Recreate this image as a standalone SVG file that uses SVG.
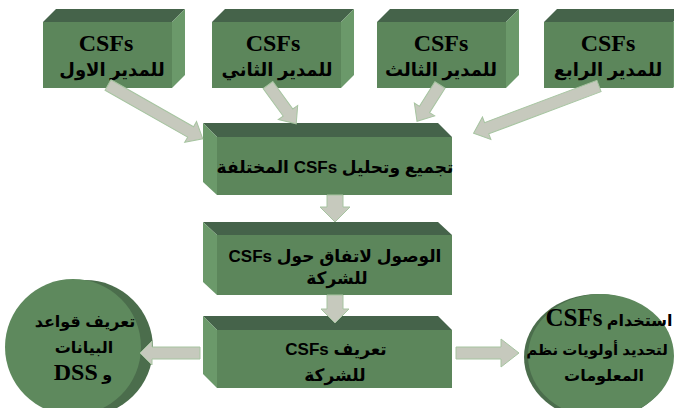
<svg xmlns="http://www.w3.org/2000/svg" width="674" height="408" viewBox="0 0 674 408">
<style>
.front{fill:#5c865b}
.top{fill:#45634a}
.side{fill:#6b996a}
.rim{fill:#4b6d4c}
.face{fill:#5e895d}
.arr{fill:#c6c9bd;stroke:#a6c4a0;stroke-width:1}
.t{font-family:"Liberation Sans","DejaVu Sans",sans-serif;font-weight:bold;fill:#000;text-anchor:middle}
.ts{font-family:"Liberation Serif","DejaVu Sans",serif;font-weight:bold;fill:#000;text-anchor:middle}
.lat{font-family:"Liberation Serif",serif}
</style>
<rect width="674" height="408" fill="#ffffff"/>

<g id="manager1">
<polygon class="top" points="43,22 56,9 185,9 172,22"/>
<polygon class="side" points="172,22 185,9 185,75 172,88"/>
<rect class="front" x="43" y="22" width="129" height="66"/>
<text class="ts" x="106" y="51" font-size="24">CSFs</text>
<text class="ts" x="112" y="76" font-size="18" direction="rtl">للمدير الاول</text>
</g>
<g id="manager2">
<polygon class="top" points="212,22 225,9 354,9 341,22"/>
<polygon class="side" points="341,22 354,9 354,75 341,88"/>
<rect class="front" x="212" y="22" width="129" height="66"/>
<text class="ts" x="273" y="51" font-size="24">CSFs</text>
<text class="ts" x="277" y="76" font-size="18" direction="rtl">للمدير الثاني</text>
</g>
<g id="manager3">
<polygon class="top" points="377,22 390,9 519,9 506,22"/>
<polygon class="side" points="506,22 519,9 519,75 506,88"/>
<rect class="front" x="377" y="22" width="129" height="66"/>
<text class="ts" x="441" y="51" font-size="24">CSFs</text>
<text class="ts" x="441" y="76" font-size="18" direction="rtl">للمدير الثالث</text>
</g>
<g id="manager4">
<polygon class="top" points="544,22 557,9 686,9 673,22"/>
<polygon class="side" points="673,22 686,9 686,75 673,88"/>
<rect class="front" x="544" y="22" width="129" height="66"/>
<text class="ts" x="608" y="51" font-size="24">CSFs</text>
<text class="ts" x="608" y="76" font-size="18" direction="rtl">للمدير الرابع</text>
</g>

<g id="collect">
<polygon class="top" points="203,123 438,123 452,137 217,137"/>
<polygon class="side" points="203,123 217,137 217,195 203,182"/>
<rect class="front" x="217" y="137" width="235" height="58"/>
<text class="t" x="335" y="173" font-size="17" direction="rtl">تجميع وتحليل CSFs المختلفة</text>
</g>
<g id="agree">
<polygon class="top" points="203,222 438,222 452,235 217,235"/>
<polygon class="side" points="203,222 217,235 217,295 203,282"/>
<rect class="front" x="217" y="235" width="235" height="60"/>
<text class="t" x="335" y="262" font-size="17" direction="rtl">الوصول لاتفاق حول  CSFs</text>
<text class="t" x="337" y="284" font-size="17" direction="rtl">للشركة</text>
</g>
<g id="define">
<polygon class="top" points="203,316 438,316 452,330 217,330"/>
<polygon class="side" points="203,316 217,330 217,388 203,374"/>
<rect class="front" x="217" y="330" width="235" height="58"/>
<text class="t" x="336" y="355" font-size="17" direction="rtl">تعريف CSFs</text>
<text class="t" x="335" y="381" font-size="17" direction="rtl">للشركة</text>
</g>

<g id="databases">
<circle class="rim" cx="85" cy="348" r="68"/>
<circle class="face" cx="73" cy="347" r="68"/>
<text class="t" x="85" y="327" font-size="16" direction="rtl">تعريف قواعد</text>
<text class="t" x="84" y="353" font-size="16" direction="rtl">البيانات</text>
<text class="t" x="83" y="380" font-size="16" direction="rtl">و <tspan class="lat" font-size="24">DSS</tspan></text>
</g>
<g id="priorities">
<ellipse class="rim" cx="598" cy="357" rx="74" ry="63"/>
<ellipse class="face" cx="601" cy="356" rx="73" ry="62"/>
<text class="t" x="609" y="326" font-size="16" direction="rtl">استخدام <tspan class="lat" font-size="25">CSFs</tspan></text>
<text class="t" x="597" y="355" font-size="15" direction="rtl">لتحديد أولويات نظم</text>
<text class="t" x="604" y="381" font-size="16" direction="rtl">المعلومات</text>
</g>

<g id="connectors">
<path class="arr" transform="translate(108,85) rotate(29.6)" d="M0,-6 H95 V-12 L109,0 L95,12 V6 H0 Z"/>
<path class="arr" transform="translate(268,85) rotate(54)" d="M0,-6 H34 V-12 L48,0 L34,12 V6 H0 Z"/>
<path class="arr" transform="translate(440,85) rotate(122.3)" d="M0,-6 H29 V-12 L43,0 L29,12 V6 H0 Z"/>
<path class="arr" transform="translate(599,86) rotate(159.4)" d="M0,-6 H120 V-12 L134,0 L120,12 V6 H0 Z"/>
<path class="arr" d="M327,195 V207 H320 L335,222 L350,207 H343 V195 Z"/>
<path class="arr" d="M327,295 V309 H321 L335,323 L349,309 H343 V295 Z"/>
<path class="arr" d="M200,347 H152 V341 L140,353 L152,365 V359 H200 Z"/>
<path class="arr" d="M456,347 H501 V339 L519,353 L501,367 V359 H456 Z"/>
</g>
</svg>
